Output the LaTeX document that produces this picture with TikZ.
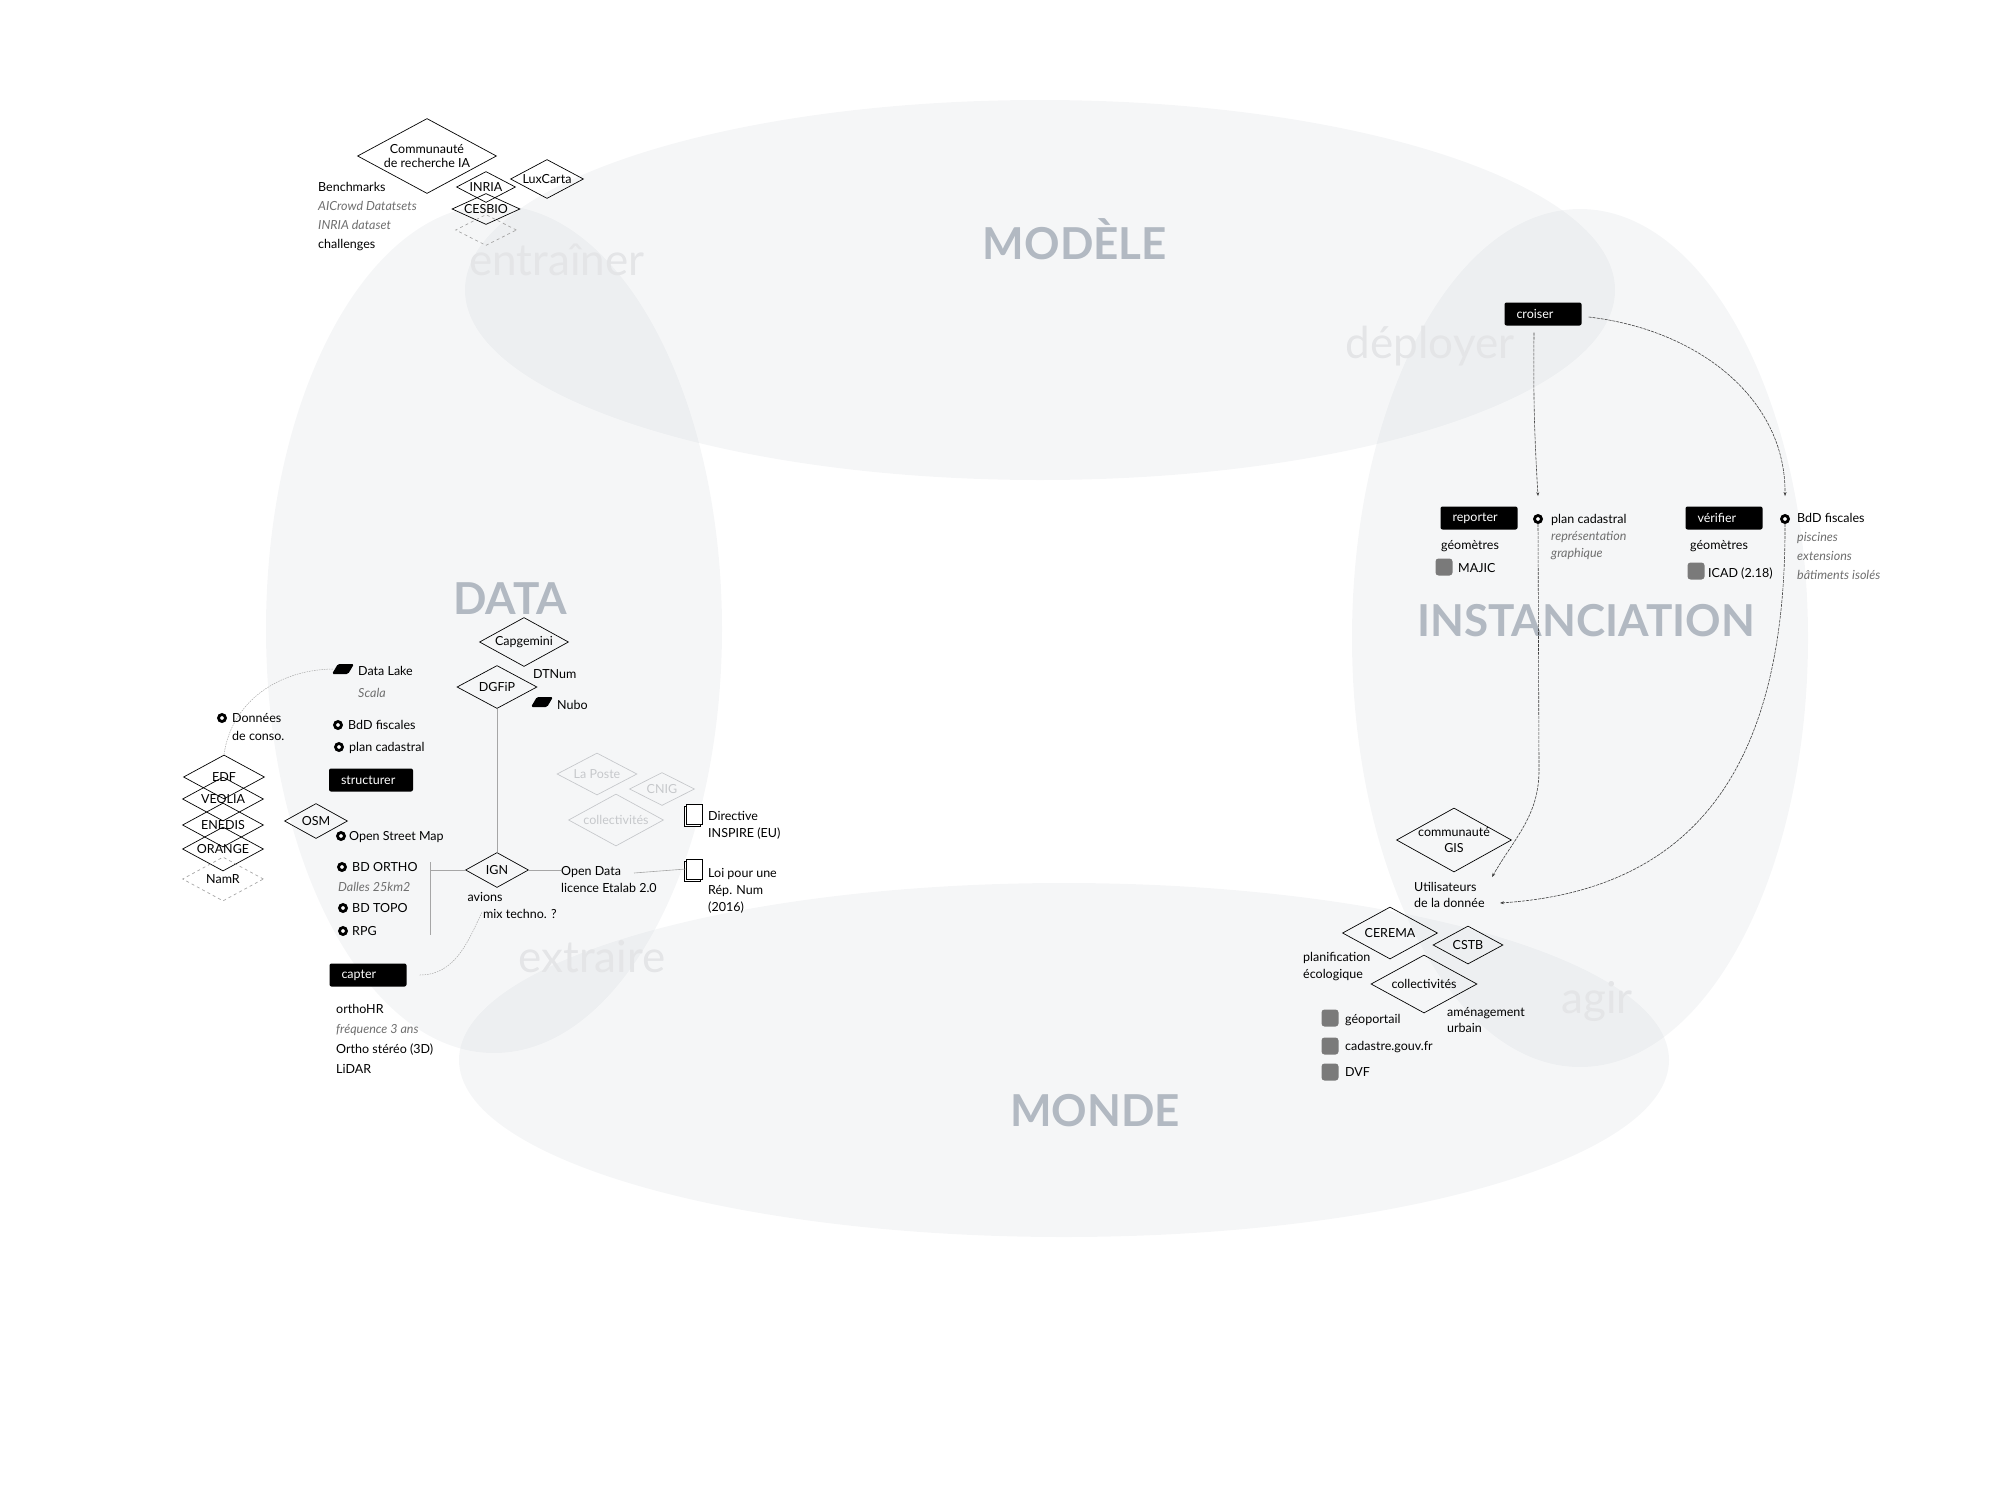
\documentclass[tikz,border=0pt]{standalone}
\usepackage{fontspec}
\setmainfont{Lato}
\usetikzlibrary{shapes.geometric,arrows.meta,shadows}

\definecolor{zonecol}{RGB}{160,170,180}
\definecolor{headcol}{HTML}{B2B9C2}
\definecolor{verbcol}{HTML}{E4E5E7}
\definecolor{softcol}{HTML}{C6C8CB}
\definecolor{notecol}{HTML}{6E6E6E}
\definecolor{iconcol}{HTML}{7A7A7A}

\tikzset{
  zone/.style={fill=zonecol, fill opacity=0.1},
  head/.style={text=headcol, font=\fontsize{44}{44}\selectfont\bfseries, anchor=base, inner sep=0pt},
  verb/.style={text=verbcol, font=\fontsize{44}{44}\selectfont, anchor=base, inner sep=0pt},
  dia/.style={draw, diamond, inner sep=0pt, line width=0.7pt},
  ghost/.style={dia, draw=softcol},
  tag/.style={fill=black, text=white, rounded corners=2pt, minimum height=23pt, text width=53pt, inner xsep=12pt, inner ysep=0pt, align=left},
  txt/.style={anchor=base west, inner sep=0pt, align=left},
  note/.style={font=\fontsize{12.5}{17}\selectfont\itshape, text=notecol},
  ring/.style={circle, draw=black, fill=white, line width=2.8pt, minimum size=7pt, inner sep=0pt},
  box/.style={fill=iconcol, rounded corners=3pt, minimum size=17pt, inner sep=0pt},
  lake/.style={trapezium, trapezium left angle=60, trapezium right angle=120, trapezium stretches=true, fill=black, minimum width=22pt, minimum height=10pt, inner sep=1pt, rounded corners=1.5pt},
  doc/.style={draw, fill=white, minimum width=16pt, minimum height=20pt, inner sep=0pt, line width=0.6pt, copy shadow={shadow xshift=-2pt, shadow yshift=-2pt}},
  link/.style={draw=gray!70, line width=0.6pt},
  dots/.style={draw=gray!70, line width=0.5pt, dash pattern=on 1.5pt off 1pt},
  flow/.style={draw=black!75, line width=0.6pt, dash pattern=on 3pt off 1pt, -{Stealth[length=4pt,width=3pt]}},
}

\begin{document}
\begin{tikzpicture}[x=1pt, y=-1pt, every node/.style={font=\fontsize{12.5}{17}\selectfont}]
\useasboundingbox (0,0) rectangle (1999,1504);

% les quatre zones
\fill[zone] (1040,290) ellipse [x radius=575, y radius=190];
\fill[zone] (1064,1060) ellipse [x radius=605, y radius=177];
\fill[zone] (494,629) ellipse [x radius=228, y radius=424];
\fill[zone] (1580,638) ellipse [x radius=228, y radius=429];

% titres
\node[head] (modele) at (1075,259) {MODÈLE};
\node[head] (data) at (510,614) {DATA};
\node[head] (inst) at (1586,636) {INSTANCIATION};
\node[head] (monde) at (1095,1126) {MONDE};
\node[verb] (entrainer) at (557,275) {entraîner};
\node[verb] (deployer) at (1430,358) {déployer};
\node[verb] (extraire) at (592,972) {extraire};
\node[verb] (agir) at (1597,1013) {agir};

% entrainer
\node[dia, minimum width=139pt, minimum height=75pt, label={[align=center, font=\fontsize{12.5}{13.5}\selectfont]center:{Communauté\\de recherche IA}}] (comm) at (427,156) {};
\node[dia, minimum width=59pt, minimum height=31pt, label=center:INRIA] (inria) at (486,187) {};
\node[dia, minimum width=73pt, minimum height=39pt, label=center:LuxCarta] (luxcarta) at (547,179) {};
\node[dia, minimum width=68pt, minimum height=31pt, label=center:CESBIO] (cesbio) at (486,209) {};
\node[dia, dashed, draw=gray!70, minimum width=61pt, minimum height=31pt] (vide) at (486,230) {};
\node[txt, font=\fontsize{12.5}{18.7}\selectfont] (bench) at (318,248) {Benchmarks\\{\itshape\color{notecol}AICrowd Datatsets}\\{\itshape\color{notecol}INRIA dataset}\\challenges};

% data
\node[dia, minimum width=89pt, minimum height=49pt, label=center:Capgemini] (capg) at (524,642) {};
\node[dia, minimum width=80pt, minimum height=43pt, label=center:DGFiP] (dgfip) at (497,687) {};
\node[txt] (dtnum) at (533,678) {DTNum};
\node[lake] (nuboic) at (542,702) {};
\node[txt] (nubo) at (557,709) {Nubo};
\node[lake] (lake) at (343,669) {};
\node[txt, font=\fontsize{12.5}{22}\selectfont] (datalake) at (358,697) {Data Lake\\{\itshape\color{notecol}Scala}};
\node[ring] (conso) at (222,718) {};
\node[txt, font=\fontsize{12.5}{18}\selectfont] (consotxt) at (232,740) {Données\\de conso.};
\node[ring] (bdd) at (338,725) {};
\node[txt] (bddtxt) at (348,729) {BdD fiscales};
\node[ring] (plan) at (339,747) {};
\node[txt] (plantxt) at (349,751) {plan cadastral};
\node[tag, text width=60pt] (structurer) at (371,780) {structurer};

\node[dia, minimum width=81pt, minimum height=44pt, label=center:EDF] (edf) at (224,777) {};
\node[dia, minimum width=81pt, minimum height=44pt, label=center:VEOLIA] (veolia) at (223,799) {};
\node[dia, minimum width=81pt, minimum height=44pt, label=center:ENEDIS] (enedis) at (223,825) {};
\node[dia, minimum width=81pt, minimum height=44pt, label=center:ORANGE] (orange) at (223,849) {};
\node[dia, dashed, draw=gray!70, minimum width=81pt, minimum height=44pt, label=center:NamR] (namr) at (223,879) {};

\node[dia, minimum width=63pt, minimum height=35pt, label=center:OSM] (osm) at (316,821) {};
\node[ring] (osmic) at (341,836) {};
\node[txt] (osmtxt) at (349,840) {Open Street Map};
\node[ring] (ortho) at (342,867) {};
\node[txt] (orthotxt) at (352,871) {BD ORTHO};
\node[txt, note] (dalles) at (338,891) {Dalles 25km2};
\node[ring] (topo) at (343,908) {};
\node[txt] (topotxt) at (352,912) {BD TOPO};
\node[ring] (rpg) at (343,931) {};
\node[txt] (rpgtxt) at (352,935) {RPG};
\coordinate (br1) at (430,862);
\coordinate (br2) at (430,935);

\node[dia, minimum width=63pt, minimum height=35pt, label=center:IGN] (ign) at (497,870) {};
\node[anchor=base, inner sep=0pt] (avions) at (485,901) {avions};
\node[txt] (mix) at (483,918) {mix techno. ?};
\node[txt] (opendata) at (561,892) {Open Data\\licence Etalab 2.0};
\coordinate (od) at (634,873);

\node[ghost, minimum width=80pt, minimum height=42pt, label={[text=softcol]center:La Poste}] (laposte) at (597,774) {};
\node[ghost, minimum width=65pt, minimum height=33pt, label={[text=softcol]center:CNIG}] (cnig) at (662,789) {};
\node[ghost, minimum width=95pt, minimum height=52pt, label={[text=softcol]center:collectivités}] (collec) at (616,820) {};
\node[doc] (inspire) at (694,814) {};
\node[txt] (inspiretxt) at (708,837) {Directive\\INSPIRE (EU)};
\node[doc] (loi) at (694,869) {};
\node[txt] (loitxt) at (708,911) {Loi pour une\\Rép. Num\\(2016)};

\node[tag] (capter) at (368,975) {capter};
\node[txt, font=\fontsize{12.5}{19.7}\selectfont] (capttxt) at (336,1073) {orthoHR\\{\itshape\color{notecol}fréquence 3 ans}\\Ortho stéréo (3D)\\LiDAR};
\coordinate (capend) at (482,912);

% instanciation
\node[tag] (croiser) at (1543,314) {croiser};
\node[tag] (reporter) at (1479,518) {reporter};
\node[tag] (verifier) at (1724,518) {vérifier};
\node[ring] (pc) at (1538,519) {};
\node[txt] (pctxt) at (1551,557) {plan cadastral\\{\itshape\color{notecol}représentation}\\{\itshape\color{notecol}graphique}};
\node[txt] (geom1) at (1441,549) {géomètres};
\node[box] (majicic) at (1444,567) {};
\node[txt] (majic) at (1458,572) {MAJIC};
\node[ring] (fisc) at (1785,519) {};
\node[txt, font=\fontsize{12.5}{18.7}\selectfont] (fisctxt) at (1797,579) {BdD fiscales\\{\itshape\color{notecol}piscines}\\{\itshape\color{notecol}extensions}\\{\itshape\color{notecol}bâtiments isolés}};
\node[txt] (geom2) at (1690,549) {géomètres};
\node[box] (icadic) at (1696,571) {};
\node[txt] (icad) at (1708,577) {ICAD (2.18)};

% agir
\node[dia, minimum width=115pt, minimum height=64pt, label={[align=center, font=\fontsize{12.5}{16}\selectfont]center:{communauté\\GIS}}] (gis) at (1454,840) {};
\node[txt, font=\fontsize{12.5}{16}\selectfont] (util) at (1414,907) {Utilisateurs\\de la donnée};
\coordinate (u1) at (1492,877);
\coordinate (u2) at (1500,903);
\coordinate (pcturn) at (1539,770);
\node[dia, minimum width=95pt, minimum height=52pt, label=center:CEREMA] (cerema) at (1390,933) {};
\node[dia, minimum width=70pt, minimum height=38pt, label=center:CSTB] (cstb) at (1468,945) {};
\node[txt] (planif) at (1303,978) {planification\\écologique};
\node[dia, minimum width=106pt, minimum height=58pt, label=center:collectivités] (collec2) at (1424,984) {};
\node[txt, font=\fontsize{12.5}{16}\selectfont] (amenag) at (1447,1032) {aménagement\\urbain};
\node[box] (geoic) at (1330,1018) {};
\node[txt] (geo) at (1345,1023) {géoportail};
\node[box] (cadic) at (1330,1046) {};
\node[txt] (cad) at (1345,1050) {cadastre.gouv.fr};
\node[box] (dvfic) at (1330,1072) {};
\node[txt] (dvf) at (1345,1076) {DVF};

% liens
\draw[dots] (edf.north) to[out=82,in=180] (lake.west);
\draw[dots] ([xshift=13pt]capter.east) to[out=0,in=-115] (capend);
\draw[link] (dgfip.south) -- (ign.north);
\draw[link] (br1) -- (br2);
\draw[link] (ign.west) -- (ign.west -| br1);
\draw[link] (ign.east) -- (ign.east -| opendata.west);
\draw[link] (od) -- (loi.west);
\draw[flow] ([xshift=-9pt,yshift=-7pt]croiser.south) to[bend right=2] ([yshift=18pt]pc.north);
\draw[flow] ([xshift=7pt,yshift=-3pt]croiser.east) .. controls (1700,330) and (1786,400) .. ([yshift=18pt]fisc.north);
\draw[flow] (pc.south) -- (pcturn) to[out=-90,in=60] (u1);
\draw[flow] (fisc.south) .. controls (1786,760) and (1700,890) .. (u2);
\end{tikzpicture}
\end{document}
